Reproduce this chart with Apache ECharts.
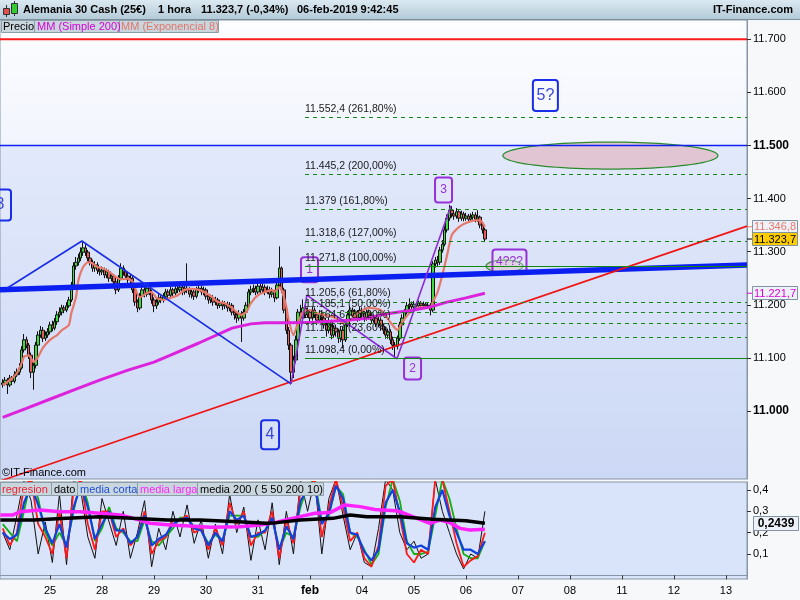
<!DOCTYPE html>
<html><head><meta charset="utf-8">
<script src="https://cdn.jsdelivr.net/npm/echarts@6/dist/echarts.min.js"></script>
<style>html,body{margin:0;padding:0;background:#f7f8fa}#c{width:800px;height:600px}</style>
</head><body><div id="c"></div>
<script>
const FF = '"Liberation Sans", Arial, sans-serif';
// ---------- axes ----------
const XMIN = 0.846, XMAX = 316.9;           // hourly bar index range (22 bars per trading day)
const dayTicks = [22,44,66,88,110,132,154,176,198,220,242,264,286,308];
const dayLabels = ['25','28','29','30','31','feb','04','05','06','07','08','11','12','13'];
const priceTicks = [11000,11100,11200,11300,11400,11500,11600,11700];
const oscTicks = [0.1,0.2,0.3,0.4];
// ---------- price data (hourly) ----------
const firstBar = 2;
const firstOpen = 11050;
const closes = [
11053,11058,11049,11062,11056,11068,11073,11081,11115,11134,11124,11105,11073,11086,11124,11143,11152,11137,11143,11149,
11162,11156,11168,11181,11186,11194,11190,11198,11209,11237,11273,11280,11288,11299,11307,11299,11288,11280,11269,11275,11265,11262,
11265,11256,11262,11250,11254,11243,11228,11250,11269,11262,11254,11247,11250,11228,11205,11194,11216,11228,11220,11231,11224,11209,
11198,11205,11213,11209,11215,11224,11218,11228,11222,11230,11228,11233,11224,11231,11228,11220,11224,11216,11228,11231,11224,11228,
11216,11209,11213,11205,11209,11199,11203,11198,11201,11194,11199,11186,11181,11175,11183,11175,11186,11199,11224,11228,11231,11224,
11235,11228,11233,11224,11228,11220,11224,11213,11237,11269,11228,11190,11152,11124,11073,11096,11134,11186,11175,11194,11181,11186,
11175,11190,11181,11171,11183,11175,11162,11152,11168,11143,11156,11149,11137,11152,11134,11162,11181,11190,11179,11186,11175,11190,
11183,11175,11186,11179,11171,11175,11164,11171,11160,11152,11143,11149,11134,11124,11122,11137,11162,11175,11186,11198,11201,11196,
11201,11198,11203,11199,11201,11198,11199,11190,11277,11284,11280,11303,11314,11341,11363,11378,11371,11367,11375,11363,11371,11363,
11367,11361,11365,11369,11361,11365,11350,11341,11323.7];
const highs = [
11060,11064,11062,11068,11066,11075,11080,11090,11122,11145,11140,11128,11110,11092,11130,11150,11160,11158,11150,11156,
11168,11170,11175,11188,11195,11200,11199,11205,11215,11243,11280,11290,11296,11308,11320,11314,11303,11294,11285,11282,11280,11271,
11272,11270,11268,11266,11260,11258,11248,11256,11278,11274,11266,11260,11256,11254,11232,11210,11222,11235,11234,11238,11236,11228,
11214,11211,11220,11218,11222,11230,11229,11234,11232,11236,11236,11240,11238,11240,11278,11233,11230,11228,11234,11238,11236,11234,
11232,11220,11219,11218,11215,11213,11209,11208,11207,11206,11205,11203,11192,11188,11190,11188,11192,11205,11230,11236,11238,11236,
11242,11240,11240,11238,11236,11234,11232,11228,11244,11310,11272,11232,11195,11158,11128,11104,11142,11192,11200,11210,11200,11195,
11192,11196,11195,11186,11190,11188,11180,11168,11175,11172,11162,11162,11155,11160,11158,11168,11188,11198,11195,11192,11190,11196,
11195,11188,11192,11191,11184,11182,11180,11177,11175,11165,11158,11155,11154,11140,11130,11142,11168,11182,11192,11205,11212,11206,
11207,11205,11208,11207,11206,11205,11204,11203,11282,11290,11292,11309,11322,11348,11370,11388,11386,11378,11382,11378,11377,11375,
11373,11371,11372,11375,11374,11378,11368,11356,11345];
const lows = [
11044,11048,11032,11045,11050,11052,11064,11068,11078,11110,11118,11098,11062,11040,11080,11118,11138,11130,11132,11138,
11144,11150,11152,11162,11176,11180,11184,11186,11194,11205,11232,11266,11274,11282,11292,11292,11282,11274,11262,11262,11258,11255,
11256,11250,11250,11243,11244,11236,11220,11224,11246,11255,11248,11240,11240,11222,11198,11186,11190,11212,11214,11215,11218,11202,
11186,11192,11200,11203,11204,11210,11212,11214,11215,11218,11222,11224,11218,11219,11222,11214,11212,11209,11212,11222,11218,11218,
11210,11202,11203,11198,11199,11192,11194,11190,11192,11187,11188,11180,11172,11166,11170,11130,11170,11180,11194,11218,11222,11218,
11220,11222,11224,11218,11220,11212,11214,11205,11210,11232,11222,11184,11145,11115,11050,11062,11090,11130,11170,11170,11175,11176,
11168,11170,11175,11162,11166,11168,11155,11140,11146,11135,11138,11140,11128,11130,11118,11130,11158,11176,11172,11173,11168,11170,
11176,11168,11170,11172,11165,11166,11158,11158,11152,11145,11136,11136,11126,11115,11098,11116,11132,11156,11170,11182,11192,11190,
11192,11193,11194,11194,11195,11193,11192,11180,11186,11270,11272,11275,11298,11310,11336,11358,11364,11360,11362,11356,11358,11357,
11358,11355,11356,11360,11355,11356,11344,11334,11318];
// MM Exponencial 8 [bar, value]
const emaPts = [[2,11049],[4,11055],[6,11062],[8,11071],[10,11090],[11,11102],[13,11105],[15,11092],[17,11102],[19,11119],[22,11134],[25,11143],[27,11152],[30,11162],[31,11184],[33,11214],[34,11246],[36,11271],[38,11280],[40,11278],[42,11271],[44,11269],[47,11262],[50,11252],[52,11248],[55,11249],[57,11243],[58,11231],[60,11214],[63,11222],[65,11224],[67,11213],[70,11209],[73,11213],[76,11218],[79,11228],[82,11230],[85,11228],[88,11222],[91,11213],[93,11205],[96,11203],[99,11194],[101,11186],[103,11181],[105,11186],[107,11203],[110,11218],[113,11224],[116,11228],[117,11224],[119,11233],[120,11228],[122,11196],[123,11171],[125,11143],[127,11167],[129,11186],[132,11190],[135,11184],[139,11180],[143,11175],[146,11166],[149,11171],[153,11186],[157,11194],[162,11190],[166,11167],[168,11156],[169,11152],[171,11167],[174,11184],[177,11194],[183,11196],[184,11205],[186,11224],[188,11256],[190,11293],[192,11331],[195,11346],[198,11354],[202,11359],[204,11359],[206,11346.8]];
// MM Simple 200 [bar, value]
const smaPts = [[2,10988],[12,11005],[23,11024],[33,11041],[43,11058],[55,11077],[66,11092],[73,11105],[85,11128],[99,11156],[107,11164],[113,11166],[124,11166],[134,11167],[148,11171],[157,11175],[162,11181],[169,11186],[176,11190],[183,11196],[190,11205],[198,11213],[206,11221.7]];
// ---------- drawn annotations ----------
const hLevels = [11700, 11500];
const thickBlue = [[0.85,11228],[316.9,11275]];
const redTrend = [[0.85,10868],[316.9,11348]];
const blueZig = [[3.8,11231],[35.5,11320],[124,11051]];
const purpleZig = [[124,11051],[130.7,11218],[168.8,11098.4],[191.6,11386]];
const fibStart = 129.9;
const fibLevels = [11552.4,11445.2,11379.0,11318.6,11271.8,11205.6,11185.1,11164.6,11139.3,11098.4];
const fibText = ['11.552,4 (261,80%)','11.445,2 (200,00%)','11.379 (161,80%)','11.318,6 (127,00%)','11.271,8 (100,00%)','11.205,6 (61,80%)','11.185,1 (50,00%)','11.164,6 (38,20%)','11.139,3 (23,60%)','11.098,4 (0,00%)'];
const fibSolid = [false,false,false,false,true,false,false,false,false,true];
const waveText = ['3','4','5?','1','2','3','4???'];
const waveX = [0.85,115.1,231.6,131.8,175.4,188.5,216.4];
const waveY = [11387.6,10955.5,11593.7,11266,11080,11416,11281.3];
const waveBlue = [true,true,true,false,false,false,false];
const waveW = [22,18,25,17,17,17,34];
const waveH = [31,29,31,25,22,25,24];
const ellipses = [[259.1,11480.8,45.5,25.4],[214.3,11272.8,7.8,11.3]];
const tagValues = [11346.8, 11323.7, 11221.7];
// ---------- oscillator panel ----------
const oscFirst = 2, oscStep = 3;
const dato = [0.20,0.12,0.28,0.45,0.35,0.10,0.25,0.06,0.38,0.05,0.45,0.40,0.18,0.08,0.36,0.25,0.14,0.30,0.08,0.20,0.35,0.04,0.22,0.12,0.30,0.18,0.33,0.15,0.26,0.08,0.24,0.10,0.38,0.20,0.32,0.07,0.26,0.12,0.34,0.05,0.30,0.10,0.45,0.30,0.45,0.10,0.36,0.45,0.28,0.12,0.20,0.06,0.04,0.22,0.45,0.40,0.20,0.12,0.16,0.08,0.10,0.45,0.30,0.20,0.10,0.03,0.10,0.08,0.30];
const regresion = [0.22,0.14,0.20,0.42,0.45,0.24,0.18,0.10,0.30,0.08,0.40,0.45,0.24,0.12,0.30,0.30,0.18,0.22,0.14,0.18,0.30,0.10,0.16,0.18,0.26,0.26,0.28,0.20,0.22,0.12,0.22,0.14,0.34,0.24,0.30,0.14,0.20,0.20,0.30,0.08,0.26,0.15,0.40,0.40,0.45,0.18,0.32,0.45,0.32,0.16,0.20,0.08,0.04,0.14,0.42,0.45,0.28,0.10,0.06,0.12,0.10,0.45,0.45,0.30,0.15,0.04,0.07,0.09,0.20];
const verde = [0.24,0.20,0.16,0.30,0.45,0.36,0.20,0.14,0.20,0.14,0.30,0.45,0.34,0.16,0.22,0.32,0.22,0.20,0.16,0.16,0.26,0.16,0.14,0.18,0.22,0.27,0.27,0.23,0.21,0.15,0.19,0.16,0.28,0.28,0.28,0.18,0.18,0.21,0.27,0.12,0.20,0.18,0.32,0.42,0.45,0.25,0.28,0.42,0.38,0.20,0.18,0.12,0.05,0.10,0.32,0.45,0.35,0.16,0.10,0.10,0.11,0.28,0.45,0.36,0.22,0.10,0.08,0.08,0.16];
const mediaCorta = [0.20,0.17,0.19,0.34,0.42,0.33,0.22,0.15,0.24,0.13,0.32,0.42,0.32,0.17,0.24,0.30,0.21,0.21,0.15,0.18,0.28,0.14,0.17,0.19,0.24,0.26,0.27,0.22,0.21,0.14,0.20,0.16,0.30,0.26,0.28,0.18,0.19,0.21,0.27,0.12,0.23,0.17,0.35,0.40,0.42,0.24,0.29,0.42,0.36,0.20,0.19,0.11,0.07,0.12,0.34,0.40,0.30,0.15,0.13,0.14,0.12,0.32,0.40,0.28,0.20,0.12,0.12,0.10,0.16];
const mediaLarga = [[1,0.283],[6.3,0.283],[9.3,0.298],[17.8,0.306],[26.2,0.298],[34.7,0.298],[43.2,0.291],[51.6,0.283],[60.1,0.259],[64.3,0.244],[72.8,0.236],[81.2,0.231],[89.7,0.225],[102.4,0.228],[110.8,0.236],[117.2,0.247],[121.4,0.259],[127.8,0.275],[134.1,0.291],[140.5,0.294],[146.8,0.330],[153.2,0.322],[159.5,0.309],[168,0.303],[170.1,0.298],[182.8,0.244],[187,0.259],[191.2,0.247],[195.5,0.220],[199.7,0.212],[206,0.216]];
const media200 = [[1,0.259],[15,0.259],[29,0.267],[43,0.275],[57,0.267],[71.5,0.259],[85.5,0.259],[99.4,0.252],[113.8,0.244],[118,0.247],[127.8,0.259],[141.7,0.267],[149,0.283],[156,0.275],[170,0.275],[184,0.263],[198,0.256],[206,0.2439]];
const oscTag = 0.2439;

// ---------- helpers ----------
function fmtInt(v){return String(Math.round(v)).replace(/\B(?=(\d{3})+(?!\d))/g,'.');}
function fmtPrice(v){const p=v.toFixed(1).split('.');return p[0].replace(/\B(?=(\d{3})+(?!\d))/g,'.')+','+p[1];}
const candleData = closes.map((c,k)=>[firstBar+k, k===0?firstOpen:closes[k-1], c, lows[k], highs[k]]);
const osc = arr => arr.map((v,k)=>[oscFirst+oscStep*k, v]);
const lineS = (data, color, width, extra) => Object.assign({type:'line', xAxisIndex:0, yAxisIndex:0, data, symbol:'none', silent:true, lineStyle:{color, width}}, extra||{});
const oscS = (data, color, width) => ({type:'line', xAxisIndex:1, yAxisIndex:1, data, symbol:'none', silent:true, lineStyle:{color, width}});

const chart = echarts.init(document.getElementById('c'), null, {renderer:'canvas'});
const G = echarts.graphic;
const tagStyle = [
  {color:'#e57a6c', bg:'#eef2f8', tick:'#e57a6c'},
  {color:'#000', bg:'#ffcc00', tick:'#000'},
  {color:'#dd00dd', bg:'#eef2f8', tick:'#dd00dd'}];

const option = {
  animation:false,
  backgroundColor:'#f7f8fa',
  grid:[
    {left:0, right:53, top:20, height:459, show:true, borderColor:'#8596a6', borderWidth:1, outerBoundsMode:'none', containLabel:false,
     backgroundColor:new G.LinearGradient(0,0,0,1,[{offset:0,color:'#fcfdff'},{offset:0.272,color:'#f2f5fd'},{offset:0.274,color:'#e2e9fb'},{offset:1,color:'#ccd8f5'}])},
    {left:0, right:53, top:482, height:97, show:true, borderColor:'#8596a6', borderWidth:1, backgroundColor:'#d9e3f9', outerBoundsMode:'none', containLabel:false}
  ],
  xAxis:[
    {type:'value', gridIndex:0, min:XMIN, max:XMAX, show:false, splitLine:{show:false}},
    {type:'value', gridIndex:1, min:XMIN, max:XMAX, splitLine:{show:false},
     axisLine:{show:true, lineStyle:{color:'#8596a6'}},
     axisTick:{show:true, length:4, customValues:dayTicks, lineStyle:{color:'#333'}},
     axisLabel:{customValues:dayTicks, margin:6, color:'#000', fontSize:11, fontFamily:FF,
       formatter:v=>{const l=dayLabels[Math.round(v/22)-1]; return l==='feb'?'{b|feb}':l;},
       rich:{b:{fontWeight:'bold', fontSize:12, color:'#000', fontFamily:FF}}}}
  ],
  yAxis:[
    {type:'value', gridIndex:0, position:'right', min:10872, max:11736, splitLine:{show:false},
     axisLine:{show:true, lineStyle:{color:'#8596a6'}},
     axisTick:{show:true, length:4, customValues:priceTicks, lineStyle:{color:'#333'}},
     axisLabel:{customValues:priceTicks, margin:6, color:'#000', fontSize:11, fontFamily:FF,
       formatter:v=>(v===11000||v===11500)?'{b|'+fmtInt(v)+'}':fmtInt(v),
       rich:{b:{fontWeight:'bold', fontSize:12, color:'#000', fontFamily:FF}}}},
    {type:'value', gridIndex:1, position:'right', min:-0.0173, max:0.4375, splitLine:{show:false},
     axisLine:{show:true, lineStyle:{color:'#8596a6'}},
     axisTick:{show:true, length:4, customValues:oscTicks, lineStyle:{color:'#333'}},
     axisLabel:{customValues:oscTicks, margin:6, color:'#000', fontSize:11, fontFamily:FF,
       formatter:v=>v.toFixed(1).replace('.',',')}}
  ],
  series:[
    lineS([[XMIN,hLevels[0]],[XMAX,hLevels[0]]], '#ff1a1a', 2),
    lineS([[XMIN,hLevels[1]],[XMAX,hLevels[1]]], '#1020f0', 1.5),
    {type:'line', xAxisIndex:0, yAxisIndex:0, data:[], silent:true,
     markLine:{silent:true, symbol:['none','none'], animation:false,
       label:{show:true, position:'insideStartTop', distance:[0,3], color:'#1a1a1a', fontSize:10.5, fontFamily:FF, formatter:'{b}'},
       data:fibLevels.map((v,k)=>[{name:fibText[k], coord:[fibStart,v], lineStyle:{color:'#118811', width:1, type:fibSolid[k]?'solid':[4,4]}},{coord:[XMAX,v]}])}},
    {type:'candlestick', xAxisIndex:0, yAxisIndex:0, data:candleData, barWidth:3, silent:true,
     encode:{x:0, y:[1,2,3,4]},
     itemStyle:{color:'#3ddc3d', color0:'#e45e5e', borderColor:'#111', borderColor0:'#111', borderWidth:1}},
    lineS(emaPts, '#e6786a', 2.2, {smooth:0.2}),
    lineS(smaPts, '#dd22dd', 3),
    lineS(thickBlue, '#0a1ff0', 5.5),
    lineS(redTrend, '#f01414', 1.6),
    lineS(blueZig, '#1a2ee8', 1.6),
    lineS(purpleZig, '#8a2ad8', 1.6),
    {type:'custom', xAxisIndex:0, yAxisIndex:0, silent:true, data:ellipses,
     renderItem:(p,api)=>{const c=api.coord([api.value(0),api.value(1)]);const s=api.size([api.value(2),api.value(3)]);
       const pts=[];for(let k=0;k<96;k++){const a=k/96*Math.PI*2;pts.push([c[0]+s[0]*Math.cos(a),c[1]+s[1]*Math.sin(a)]);}
       return {type:'polygon', shape:{points:pts}, style:{fill:p.dataIndex===0?'#e1c5d3':'#d9c9d3', stroke:'#2a8a2a', lineWidth:1.2}};}},
    {type:'custom', xAxisIndex:0, yAxisIndex:0, silent:true, clip:false, data:waveX.map((x,k)=>[x,waveY[k]]),
     renderItem:(p,api)=>{const k=p.dataIndex;const c=api.coord([api.value(0),api.value(1)]);const w=waveW[k],h=waveH[k];
       const blue=waveBlue[k];const col=blue?'#1a2ee8':'#9630d8';
       return {type:'group', children:[
         {type:'rect', shape:{x:c[0]-w/2, y:c[1]-h/2, width:w, height:h, r:3}, style:{fill:blue?'rgba(255,255,255,0.15)':'rgba(235,225,250,0.35)', stroke:col, lineWidth:2}},
         {type:'text', style:{text:waveText[k], x:c[0], y:c[1], align:'center', verticalAlign:'middle', fill:blue?'#3a48d8':'#9630d8', font:(blue?'16px ':'12px ')+FF}}]};}},
    {type:'custom', xAxisIndex:0, yAxisIndex:0, silent:true, clip:false, data:tagValues.map(v=>[XMAX,v]),
     renderItem:(p,api)=>{const c=api.coord([api.value(0),api.value(1)]);const st=tagStyle[p.dataIndex];
       return {type:'group', z2:100, children:[
         {type:'line', shape:{x1:c[0], y1:c[1], x2:c[0]+5, y2:c[1]}, style:{stroke:st.tick, lineWidth:1}},
         {type:'rect', shape:{x:c[0]+5.5, y:Math.round(c[1])-6.5, width:45, height:13}, style:{fill:st.bg, stroke:'#7f93a3', lineWidth:1}},
         {type:'text', style:{text:fmtPrice(api.value(1)), x:c[0]+28, y:c[1]+0.5, align:'center', verticalAlign:'middle', fill:st.color, font:'11px '+FF}}]};}},
    oscS(osc(dato), '#111', 1),
    oscS(osc(verde), '#10b010', 1.8),
    oscS(osc(regresion), '#ff1a1a', 1.8),
    oscS(osc(mediaCorta), '#1040e0', 2.2),
    oscS(mediaLarga, '#ff22ff', 3.5),
    oscS(media200, '#000', 3.5),
    {type:'custom', xAxisIndex:1, yAxisIndex:1, silent:true, clip:false, data:[[XMAX, oscTag]],
     renderItem:(p,api)=>{const c=api.coord([api.value(0),api.value(1)]);
       return {type:'group', children:[
         {type:'rect', shape:{x:c[0]+6.5, y:Math.round(c[1])-6.5, width:45, height:14}, style:{fill:'#eef2f8', stroke:'#7f93a3', lineWidth:1}},
         {type:'text', style:{text:api.value(1).toFixed(4).replace('.',','), x:c[0]+29, y:c[1]+0.5, align:'center', verticalAlign:'middle', fill:'#000', font:'bold 12px '+FF}}]};}}
  ],
  graphic:[
    {type:'rect', z:100, shape:{x:0,y:0,width:800,height:19}, style:{fill:new G.LinearGradient(0,0,0,1,[{offset:0,color:'#dbe9f1'},{offset:1,color:'#b4cbd8'}])}},
    {type:'rect', z:100, shape:{x:0,y:19,width:800,height:1}, style:{fill:'#7d8f9c'}},
    {type:'line', z:101, shape:{x1:6.5,y1:5,x2:6.5,y2:17}, style:{stroke:'#333',lineWidth:1}},
    {type:'rect', z:101, shape:{x:3.5,y:8.5,width:6,height:6}, style:{fill:'#e05050',stroke:'#333',lineWidth:1}},
    {type:'line', z:101, shape:{x1:14.5,y1:1,x2:14.5,y2:16}, style:{stroke:'#333',lineWidth:1}},
    {type:'rect', z:101, shape:{x:11.5,y:3.5,width:6,height:10}, style:{fill:'#30cc30',stroke:'#333',lineWidth:1}},
    {type:'text', z:101, x:23, y:10, style:{text:'Alemania 30 Cash (25€)', font:'bold 11px '+FF, fill:'#000', verticalAlign:'middle'}},
    {type:'text', z:101, x:158, y:10, style:{text:'1 hora', font:'bold 11px '+FF, fill:'#000', verticalAlign:'middle'}},
    {type:'text', z:101, x:201, y:10, style:{text:'11.323,7 (-0,34%)', font:'bold 11px '+FF, fill:'#000', verticalAlign:'middle'}},
    {type:'text', z:101, x:297, y:10, style:{text:'06-feb-2019 9:42:45', font:'bold 11px '+FF, fill:'#000', verticalAlign:'middle'}},
    {type:'text', z:101, x:793, y:10, style:{text:'IT-Finance.com', font:'bold 11px '+FF, fill:'#000', align:'right', verticalAlign:'middle'}},
    {type:'rect', z:100, shape:{x:1.5,y:20.5,width:33,height:12}, style:{fill:'#c9d6de',stroke:'#8b9ea9',lineWidth:1}},
    {type:'rect', z:100, shape:{x:34.5,y:20.5,width:85,height:12}, style:{fill:'#c9d6de',stroke:'#8b9ea9',lineWidth:1}},
    {type:'rect', z:100, shape:{x:119.5,y:20.5,width:99,height:12}, style:{fill:'#c9d6de',stroke:'#8b9ea9',lineWidth:1}},
    {type:'text', z:101, x:3, y:27, style:{text:'Precio', font:'11px '+FF, fill:'#000', verticalAlign:'middle'}},
    {type:'text', z:101, x:37, y:27, style:{text:'MM (Simple 200)', font:'11px '+FF, fill:'#d400d4', verticalAlign:'middle'}},
    {type:'text', z:101, x:121, y:27, style:{text:'MM (Exponencial 8)', font:'11px '+FF, fill:'#e0766a', verticalAlign:'middle'}},
    {type:'text', z:101, x:2, y:473, style:{text:'©IT-Finance.com', font:'11px '+FF, fill:'#000', verticalAlign:'middle'}},
    {type:'rect', z:100, shape:{x:0.5,y:482.5,width:51,height:13}, style:{fill:'#c9d6de',stroke:'#8b9ea9',lineWidth:1}},
    {type:'rect', z:100, shape:{x:51.5,y:482.5,width:26,height:13}, style:{fill:'#c9d6de',stroke:'#8b9ea9',lineWidth:1}},
    {type:'rect', z:100, shape:{x:77.5,y:482.5,width:60,height:13}, style:{fill:'#c9d6de',stroke:'#8b9ea9',lineWidth:1}},
    {type:'rect', z:100, shape:{x:137.5,y:482.5,width:60,height:13}, style:{fill:'#c9d6de',stroke:'#8b9ea9',lineWidth:1}},
    {type:'rect', z:100, shape:{x:197.5,y:482.5,width:126,height:13}, style:{fill:'#c9d6de',stroke:'#8b9ea9',lineWidth:1}},
    {type:'text', z:101, x:2, y:489.5, style:{text:'regresion', font:'11px '+FF, fill:'#ee2233', verticalAlign:'middle'}},
    {type:'text', z:101, x:54, y:489.5, style:{text:'dato', font:'11px '+FF, fill:'#000', verticalAlign:'middle'}},
    {type:'text', z:101, x:80, y:489.5, style:{text:'media corta', font:'11px '+FF, fill:'#1f4fd8', verticalAlign:'middle'}},
    {type:'text', z:101, x:140, y:489.5, style:{text:'media larga', font:'11px '+FF, fill:'#ff22ff', verticalAlign:'middle'}},
    {type:'text', z:101, x:200, y:489.5, style:{text:'media 200 ( 5 50 200 10)', font:'11px '+FF, fill:'#000', verticalAlign:'middle'}}
  ]
};
chart.setOption(option);
</script></body></html>
